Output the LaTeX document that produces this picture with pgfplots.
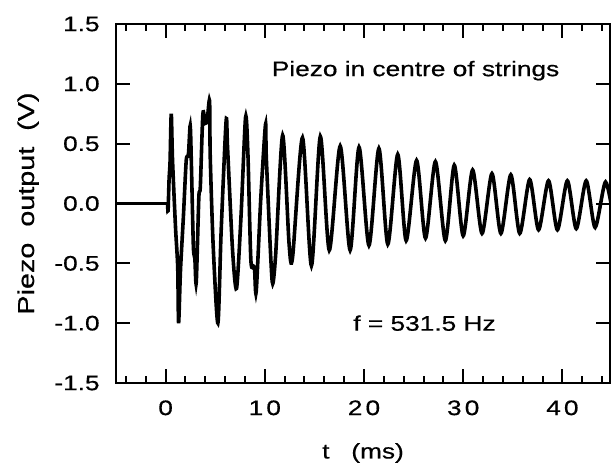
\documentclass[border=0pt]{standalone}
\usepackage{pgfplots}
\pgfplotsset{compat=1.18}
\usepackage{fontspec}
\setmainfont{Liberation Sans}[FakeStretch=1.25, FakeBold=0.6]

\begin{document}
\fontsize{10.5}{12.5}\selectfont
\begin{tikzpicture}
% picture frame, axis box sits at (0,0)--(247pt,179.5pt)
\path[use as bounding box] (-58pt,-44.5pt) rectangle (249pt,191.5pt);
\begin{axis}[
    scale only axis,
    width=247pt, height=179.5pt,
    xmin=-5, xmax=44.8,
    ymin=-1.5, ymax=1.5,
    axis line style={line width=1pt},
    tick style={line width=1pt, black},
    tick align=inside,
    major tick length=7pt,
    minor tick length=3.5pt,
    xtick={0,10,20,30,40},
    xticklabels={0,1\hspace{0.15em}0,2\hspace{0.15em}0,3\hspace{0.15em}0,4\hspace{0.15em}0},
    minor xtick={-4,-2,2,4,6,8,12,14,16,18,22,24,26,28,32,34,36,38,42,44},
    ytick={-1.5,-1,-0.5,0,0.5,1,1.5},
    yticklabels={-1.5,-1.0,-0.5,0.0,0.5,1.0,1.5},
    /pgf/number format/assume math mode=true,
    ticklabel style={font=\fontsize{10.5}{12.5}\selectfont},
    xticklabel style={yshift=-5pt},
    yticklabel style={xshift=-4.5pt},
    xlabel={t\ \ \ (ms)},
    ylabel={Piezo\ \ output\ \ (V)},
    xlabel style={at={(axis description cs:0.5,-0.195)}, anchor=center},
    ylabel style={at={(axis description cs:-0.178,0.5)}, anchor=center,
        font=\fontsize{11.5}{13.5}\selectfont},
    clip=true,
]
% flat baseline before the strike
\addplot[black, line width=1.8pt] coordinates {(-5,0) (0.22,0)};
% piezo signal
\addplot[black, line width=1.8pt, smooth, tension=0.45] coordinates {
    (0.2,0) (0.25,-0.06) (0.35,0.2) (0.45,0.35) (0.57,0.75) (0.7,0.36)
    (1.0,-0.2) (1.22,-0.53) (1.31,-1.0) (1.5,-0.56) (1.8,-0.1) (2.08,0.36)
    (2.3,0.41) (2.48,0.65) (2.6,0.33) (2.8,-0.36) (2.95,-0.46) (3.09,-0.66)
    (3.35,0.05) (3.5,0.14) (3.76,0.75) (4.0,0.67) (4.2,0.7) (4.43,0.86)
    (4.5,0.39) (4.8,-0.36) (5.27,-1.0) (5.6,-0.23) (6.1,0.69) (6.25,0.46)
    (6.75,-0.39) (7.15,-0.71) (7.6,-0.11) (8.06,0.72) (8.3,0.41) (8.6,-0.48)
    (8.95,-0.53) (9.13,-0.74) (9.6,0.05) (10.07,0.66) (10.15,0.39) (10.6,-0.45)
    (10.8,-0.67) (11.1,-0.42) (11.8,0.57) (12.45,-0.34) (12.8,-0.45) (13.8,0.55)
    (14.7,-0.52) (15.6,0.56) (16.5,-0.39) (17.6,0.48) (18.6,-0.39) (19.5,0.47)
    (20.5,-0.35) (21.5,0.46) (22.4,-0.34) (23.4,0.41) (24.25,-0.31) (25.3,0.36)
    (26.2,-0.29) (27.2,0.35) (28.2,-0.31) (29.1,0.32) (30.0,-0.27) (30.95,0.28)
    (31.9,-0.25) (32.9,0.25) (33.8,-0.25) (34.8,0.24) (35.7,-0.25) (36.7,0.2)
    (37.6,-0.22) (38.6,0.19) (39.5,-0.22) (40.5,0.19) (41.4,-0.21) (42.4,0.19)
    (43.3,-0.2) (44.35,0.18) (45.2,-0.15)
};
\node at (axis cs:25.2,1.11) {Piezo in centre of strings};
\node at (axis cs:26.1,-1.0) {f = 531.5 Hz};
\end{axis}
\end{tikzpicture}
\end{document}
